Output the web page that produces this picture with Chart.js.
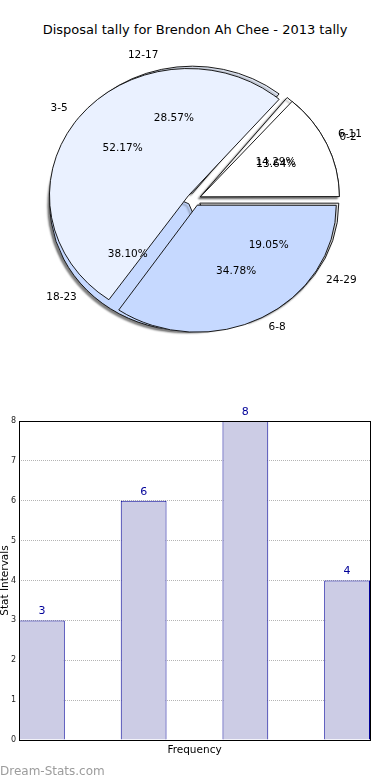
<!DOCTYPE html>
<html>
<head>
<meta charset="utf-8">
<script src="https://cdn.jsdelivr.net/npm/chart.js@4.4.0/dist/chart.umd.min.js"></script>
<style>
  body { margin: 0; background: #fff; width: 390px; height: 780px; overflow: hidden; position: relative; font-family: "DejaVu Sans", sans-serif; }
  #title { position: absolute; top: 22px; left: 0; width: 390px; text-align: center; font-size: 13px; line-height: 15px; color: #000; }
  #pie { position: absolute; top: 0; left: 0; }
  #bars { position: absolute; top: 400px; left: 0; }
  #watermark { position: absolute; left: 0; top: 764px; font-size: 12px; line-height: 14px; color: #9c9c9c; }
</style>
</head>
<body>
<div id="title">Disposal tally for Brendon Ah Chee - 2013 tally</div>
<canvas id="pie" width="390" height="400"></canvas>
<canvas id="bars" width="390" height="380"></canvas>
<div id="watermark">Dream-Stats.com</div>
<script>
// pie underneath: stat intervals
const outerLabels = ['6-11', '12-17', '18-23', '24-29'];
const outerValues = [3, 6, 8, 4];
// pie on top: already given as percentages
const innerLabels = ['0-2', '3-5', '6-8'];
const innerPercents = [13.64, 52.17, 34.78];

const sliceColours = ['#ffffff', '#eaf1ff', '#c6d9ff'];

// bar chart
const barValues = [3, 6, 8, 4];
const yMax = 8;

const PIE_R = 139;
const SQUASH = 0.914;   // pie is drawn a bit flat, like the original
const EXPLODE = 7;

const colourList = (n) => {
    let out = [];
    for (let i = 0; i < n; i++) out.push(sliceColours[i % sliceColours.length]);
    return out;
}

// both pies sit on the same centre, top one is dataset 0
const pieLook = {
    id: 'pieLook',
    beforeDatasetsDraw(chart) {
        const R = chart.getDatasetMeta(0).controller.outerRadius;
        for (let d = 0; d < 2; d++) {
            chart.getDatasetMeta(d).data.forEach(arc => {
                // chart.js makes big exploded slices larger, undo that
                const fix = 1 - Math.sin(Math.min(Math.PI, arc.circumference));
                arc.innerRadius = 0;
                arc.outerRadius = R - EXPLODE * fix;
            });
        }
        const {x, y} = chart.getDatasetMeta(0).data[0];
        const ctx = chart.ctx;
        ctx.save();
        ctx.translate(x, y);
        ctx.scale(1, SQUASH);
        ctx.translate(-x, -y);
    },
    beforeDatasetDraw(chart, args) {
        if (args.index == 1) {
            const ctx = chart.ctx;
            ctx.save();
            ctx.shadowColor = 'rgba(0,0,0,0.5)';
            ctx.shadowOffsetX = -2;
            ctx.shadowOffsetY = 2;
            ctx.shadowBlur = 2;
        }
    },
    afterDatasetDraw(chart, args) {
        if (args.index == 1) chart.ctx.restore();
    },
    afterDatasetsDraw(chart) {
        const ctx = chart.ctx;
        ctx.restore();
        const R = chart.getDatasetMeta(0).controller.outerRadius;
        ctx.save();
        ctx.font = '10.5px "DejaVu Sans"';
        ctx.fillStyle = '#000';
        ctx.textBaseline = 'middle';
        for (let d = 1; d >= 0; d--) {
            const meta = chart.getDatasetMeta(d);
            const ds = chart.data.datasets[d];
            const total = ds.data.reduce((a, b) => a + b, 0);
            meta.data.forEach((arc, i) => {
                const mid = (arc.startAngle + arc.endAngle) / 2;
                const dx = Math.cos(mid), dy = Math.sin(mid);
                let r = R * 1.1 + EXPLODE;
                ctx.textAlign = dx > 0 ? 'left' : 'right';
                ctx.fillText(ds.sliceLabels[i], arc.x + dx * r, arc.y + dy * r * SQUASH - 2);
                r = R * 0.6 + EXPLODE;
                const pct = ds.rawPercent ? ds.data[i] : ds.data[i] / total * 100;
                ctx.textAlign = 'center';
                ctx.fillText(pct.toFixed(2) + '%', arc.x + dx * r, arc.y + dy * r * SQUASH - 1);
            });
        }
        ctx.restore();
    }
};

// matplotlib goes anticlockwise from 3 o'clock, chart.js clockwise: reverse
const rev = (a) => a.slice().reverse();

new Chart(document.getElementById('pie'), {
    type: 'pie',
    data: {
        datasets: [{
            data: rev(innerPercents),
            sliceLabels: rev(innerLabels),
            rawPercent: true,
            backgroundColor: rev(colourList(innerLabels.length)),
            borderColor: '#111',
            borderWidth: 1,
            offset: EXPLODE * 4
        }, {
            data: rev(outerValues),
            sliceLabels: rev(outerLabels),
            backgroundColor: rev(colourList(outerLabels.length)),
            borderColor: '#111',
            borderWidth: 1,
            offset: EXPLODE * 4
        }]
    },
    options: {
        responsive: false,
        animation: false,
        events: [],
        rotation: 90,
        radius: PIE_R,
        layout: { padding: { right: 2, bottom: 1 } },
        plugins: { legend: { display: false }, tooltip: { enabled: false } }
    },
    plugins: [pieLook]
});

const frame = {
    id: 'frame',
    afterDatasetsDraw(chart) {
        const a = chart.chartArea;
        const ctx = chart.ctx;
        ctx.save();
        ctx.strokeStyle = '#000';
        ctx.lineWidth = 1;
        ctx.strokeRect(Math.round(a.left) + 0.5, Math.round(a.top) + 0.5,
            Math.round(a.right - a.left), Math.round(a.bottom - a.top));
        ctx.restore();
    }
};

const barNumbers = {
    id: 'barNumbers',
    afterDatasetsDraw(chart) {
        const ctx = chart.ctx;
        ctx.save();
        ctx.font = '11px "DejaVu Sans"';
        ctx.fillStyle = '#000099';
        ctx.textAlign = 'center';
        ctx.textBaseline = 'middle';
        chart.getDatasetMeta(0).data.forEach((bar, i) => {
            ctx.fillText(String(barValues[i]), bar.x, bar.y - 9);
        });
        ctx.restore();
    }
};

new Chart(document.getElementById('bars'), {
    type: 'bar',
    data: {
        datasets: [{
            data: barValues.map((v, i) => ({ x: i, y: v })),
            backgroundColor: '#ccccE5',
            borderColor: '#000099',
            borderWidth: 1,
            barPercentage: 0.45,
            categoryPercentage: 1
        }]
    },
    options: {
        responsive: false,
        animation: false,
        events: [],
        layout: { padding: { top: 21, right: 20, left: 0, bottom: 0 } },
        plugins: { legend: { display: false }, tooltip: { enabled: false } },
        scales: {
            x: {
                type: 'linear',
                min: -0.225,
                max: barValues.length - 1 + 0.225,
                offset: false,
                grid: { display: false },
                border: { display: false },
                ticks: { display: false },
                // one tick per bar so the bar width comes from the bar spacing
                afterBuildTicks(s) { s.ticks = barValues.map((v, i) => ({ value: i })); },
                title: {
                    display: true, text: 'Frequency', color: '#000',
                    font: { size: 10.5, family: 'DejaVu Sans', lineHeight: 1.2 },
                    padding: { top: 0, bottom: 23 }
                },
                afterFit(s) { s.height = 40; }
            },
            y: {
                min: 0,
                max: yMax,
                ticks: { stepSize: 1, color: '#222', padding: 3, font: { size: 8, family: 'DejaVu Sans' } },
                grid: { color: '#b4b4b4', drawTicks: false },
                border: { display: false, dash: [1, 1] },
                title: {
                    display: true, text: 'Stat Intervals', color: '#000',
                    font: { size: 10.5, family: 'DejaVu Sans', lineHeight: 1 },
                    padding: 0
                },
                afterFit(s) { s.width = 19; }
            }
        }
    },
    plugins: [frame, barNumbers]
});
</script>
</body>
</html>
